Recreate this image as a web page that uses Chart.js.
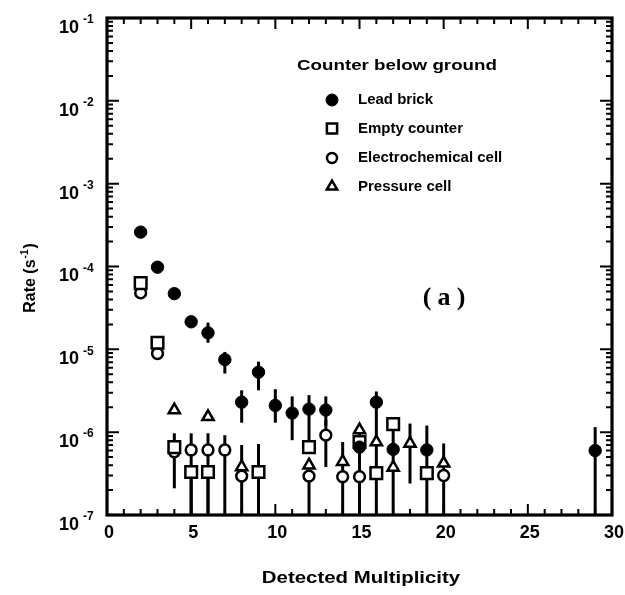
<!DOCTYPE html>
<html>
<head>
<meta charset="utf-8">
<script src="https://cdn.jsdelivr.net/npm/chart.js"></script>
<style>
  html, body { margin: 0; padding: 0; background: #fff; }
  #wrap { width: 625px; height: 595px; position: relative; }
</style>
</head>
<body>
<div id="wrap"><canvas id="chart" width="625" height="595"></canvas></div>
<script>
// Rate vs detected multiplicity, counter below ground
const leadX    = [2, 3, 4, 5, 6, 7, 8, 9, 10, 11, 12, 13, 15, 16, 17, 19, 29];
const leadRate = [2.6e-4, 9.8e-5, 4.7e-5, 2.15e-5, 1.58e-5, 7.5e-6, 2.3e-6, 5.3e-6, 2.1e-6, 1.7e-6, 1.9e-6, 1.85e-6, 6.6e-7, 2.3e-6, 6.2e-7, 6.1e-7, 6.0e-7];
const leadHi   = [null, null, null, null, 2.1e-5, 9.3e-6, 3.2e-6, 7.1e-6, 3.3e-6, 2.7e-6, 2.8e-6, 2.7e-6, null, 3.1e-6, null, 1.2e-6, 1.15e-6];
const leadLo   = [null, null, null, null, 1.2e-5, 5.1e-6, 1.3e-6, 3.2e-6, 1.3e-6, 8.0e-7, 6.6e-7, 1.2e-6, null, 1e-7, null, 1e-7, 1e-7];

const emptyX    = [2, 3, 4, 5, 6, 9, 12, 15, 16, 17, 19];
const emptyRate = [6.3e-5, 1.2e-5, 6.6e-7, 3.3e-7, 3.3e-7, 3.3e-7, 6.6e-7, 7.6e-7, 3.2e-7, 1.25e-6, 3.2e-7];
const emptyHi   = [null, 1.4e-5, null, null, null, 7.2e-7, null, null, null, 1.5e-6, null];
const emptyLo   = [null, 8e-6, null, 1e-7, 1e-7, 1e-7, null, null, null, 1e-7, null];

const electroX    = [2, 3, 4, 5, 6, 7, 8, 12, 13, 14, 15, 20];
const electroRate = [4.8e-5, 8.9e-6, 5.8e-7, 6.1e-7, 6.1e-7, 6.1e-7, 2.95e-7, 2.95e-7, 9.2e-7, 2.9e-7, 2.9e-7, 3.0e-7];
const electroHi   = [null, null, 9.7e-7, 9.7e-7, 9.7e-7, 9.2e-7, null, null, 1.4e-6, null, null, null];
const electroLo   = [null, null, 2.1e-7, 1e-7, 1e-7, 1e-7, null, 1e-7, 3.8e-7, null, null, null];

const pressureX    = [4, 6, 8, 12, 14, 15, 16, 17, 18, 20];
const pressureRate = [1.85e-6, 1.53e-6, 3.8e-7, 4.0e-7, 4.4e-7, 1.06e-6, 7.6e-7, 3.75e-7, 7.3e-7, 4.2e-7];
const pressureHi   = [null, null, 7.0e-7, null, 7.6e-7, 1.27e-6, null, null, 1.27e-6, 7.3e-7];
const pressureLo   = [null, null, 1e-7, null, 1e-7, 1e-7, null, null, 2.4e-7, 1e-7];

const seriesNames = ['Lead brick', 'Empty counter', 'Electrochemical cell', 'Pressure cell'];
const xTickLabels = [0, 5, 10, 15, 20, 25, 30];
const yTickExponents = [-7, -6, -5, -4, -3, -2, -1];

const SANS = '"Liberation Sans", Arial, sans-serif';

function points(xs, ys) {
  return xs.map((x, i) => ({ x: x, y: ys[i] }));
}

function series(label, xs, ys, hi, lo, style) {
  return Object.assign({
    label: label,
    data: points(xs, ys),
    errHi: hi,
    errLo: lo,
    showLine: false,
    borderColor: '#000',
    borderWidth: 2.5,
    backgroundColor: '#fff'
  }, style);
}

const datasets = [
  series(seriesNames[0], leadX, leadRate, leadHi, leadLo,
    { pointStyle: 'circle', pointRadius: 6.2, backgroundColor: '#000', borderWidth: 1 }),
  series(seriesNames[1], emptyX, emptyRate, emptyHi, emptyLo,
    { pointStyle: 'rect', pointRadius: 8.2 }),
  series(seriesNames[2], electroX, electroRate, electroHi, electroLo,
    { pointStyle: 'circle', pointRadius: 5.4 }),
  series(seriesNames[3], pressureX, pressureRate, pressureHi, pressureLo,
    { pointStyle: 'triangle', pointRadius: 6.5 })
];

// horizontally stretched text, the scanned lettering is wide
function wideText(ctx, text, x, y, stretch, align) {
  ctx.save();
  ctx.translate(x, y);
  ctx.scale(stretch, 1);
  ctx.textAlign = align;
  ctx.fillText(text, 0, 0);
  ctx.restore();
}

// vertical error bars, drawn under the markers
const errorBars = {
  id: 'errorBars',
  beforeDatasetsDraw(chart) {
    const { ctx, chartArea: a, scales: { x, y } } = chart;
    ctx.save();
    ctx.beginPath();
    ctx.rect(a.left, a.top, a.right - a.left, a.bottom - a.top);
    ctx.clip();
    ctx.strokeStyle = '#000';
    ctx.lineWidth = 3;
    chart.data.datasets.forEach(ds => {
      ds.data.forEach((p, i) => {
        const hi = ds.errHi[i], lo = ds.errLo[i];
        if (hi == null && lo == null) return;
        const px = x.getPixelForValue(p.x);
        ctx.beginPath();
        ctx.moveTo(px, y.getPixelForValue(hi != null ? hi : p.y));
        ctx.lineTo(px, y.getPixelForValue(lo != null ? lo : p.y));
        ctx.stroke();
      });
    });
    ctx.restore();
  }
};

// frame, inward ticks, tick labels, titles, legend
const frame = {
  id: 'frame',
  afterDraw(chart) {
    const { ctx, chartArea: a, scales: { x, y } } = chart;
    ctx.save();
    ctx.strokeStyle = '#000';
    ctx.fillStyle = '#000';

    // inward ticks along x (every unit, longer every 5)
    ctx.lineWidth = 2;
    for (let v = 1; v < 30; v++) {
      const px = x.getPixelForValue(v);
      const len = v % 5 === 0 ? 11 : 6;
      ctx.beginPath();
      ctx.moveTo(px, a.bottom); ctx.lineTo(px, a.bottom - len);
      ctx.moveTo(px, a.top); ctx.lineTo(px, a.top + len);
      ctx.stroke();
    }
    // inward ticks along y (decades and 2..9)
    for (let e = -7; e <= -1; e++) {
      for (let m = 1; m <= 9; m++) {
        const v = m * Math.pow(10, e);
        if (v > 0.1 * 1.0001) break;
        const py = y.getPixelForValue(v);
        const len = m === 1 ? 12 : 6;
        ctx.beginPath();
        ctx.moveTo(a.left, py); ctx.lineTo(a.left + len, py);
        ctx.moveTo(a.right, py); ctx.lineTo(a.right - len, py);
        ctx.stroke();
      }
    }

    ctx.lineWidth = 3.2;
    ctx.strokeRect(a.left, a.top, a.right - a.left, a.bottom - a.top);

    // x tick labels
    ctx.font = 'bold 18px ' + SANS;
    ctx.textAlign = 'center';
    ctx.textBaseline = 'middle';
    xTickLabels.forEach(v => {
      ctx.fillText(String(v), x.getPixelForValue(v) + 2, a.bottom + 18);
    });

    // y tick labels: 10 with raised exponent
    yTickExponents.forEach(e => {
      const py = y.getPixelForValue(Math.pow(10, e));
      ctx.font = 'bold 18px ' + SANS;
      ctx.textAlign = 'right';
      ctx.textBaseline = 'middle';
      ctx.fillText('10', 79, py + 10);
      ctx.font = 'bold 12px ' + SANS;
      ctx.textAlign = 'left';
      ctx.fillText('-' + Math.abs(e), 83, py + 2);
    });

    // axis titles
    ctx.font = 'bold 17px ' + SANS;
    ctx.textBaseline = 'middle';
    wideText(ctx, 'Detected Multiplicity', 361, 578, 1.2, 'center');

    ctx.save();
    ctx.translate(31, 278);
    ctx.rotate(-Math.PI / 2);
    ctx.font = 'bold 16px ' + SANS;
    const main = 'Rate (s';
    const sup = '-1';
    const close = ')';
    const w1 = ctx.measureText(main).width;
    ctx.font = 'bold 10px ' + SANS;
    const w2 = ctx.measureText(sup).width;
    ctx.font = 'bold 16px ' + SANS;
    const w3 = ctx.measureText(close).width;
    let sx = -(w1 + w2 + 2 + w3) / 2;
    ctx.textAlign = 'left';
    ctx.fillText(main, sx, 0);
    ctx.font = 'bold 10px ' + SANS;
    ctx.fillText(sup, sx + w1 + 1, -6);
    ctx.font = 'bold 16px ' + SANS;
    ctx.fillText(close, sx + w1 + w2 + 2, 0);
    ctx.restore();

    // panel tag
    ctx.font = 'bold 26px "Liberation Serif", "Times New Roman", serif';
    ctx.textAlign = 'center';
    ctx.fillText('(', 427, 298);
    ctx.fillText('a', 444, 298);
    ctx.fillText(')', 461, 298);

    // legend
    ctx.font = 'bold 15px ' + SANS;
    wideText(ctx, 'Counter below ground', 297, 66, 1.25, 'left');
    const rows = [100, 128.5, 158, 186.5];
    chart.data.datasets.forEach((ds, i) => {
      const r = ds.pointStyle === 'rect' ? 7.2 : ds.pointStyle === 'triangle' ? 6 : (i === 0 ? 6 : 5);
      ctx.save();
      ctx.lineWidth = ds.borderWidth;
      ctx.strokeStyle = ds.borderColor;
      ctx.fillStyle = ds.backgroundColor;
      Chart.helpers.drawPoint(ctx, { pointStyle: ds.pointStyle, radius: r, borderWidth: ds.borderWidth }, 332, rows[i]);
      ctx.restore();
      ctx.fillStyle = '#000';
      ctx.font = 'bold 15px ' + SANS;
      ctx.textAlign = 'left';
      ctx.fillText(ds.label, 358, rows[i]);
    });

    ctx.restore();
  }
};

new Chart(document.getElementById('chart'), {
  type: 'scatter',
  data: { datasets: datasets },
  options: {
    responsive: false,
    animation: false,
    layout: { padding: { left: 0, top: 18, right: 13, bottom: 0 } },
    plugins: { legend: { display: false }, tooltip: { enabled: false } },
    scales: {
      x: {
        type: 'linear', min: 0, max: 30,
        grid: { display: false }, border: { display: false },
        ticks: { display: false },
        afterFit(s) { s.height = 80; }
      },
      y: {
        type: 'logarithmic', min: 1e-7, max: 1e-1,
        grid: { display: false }, border: { display: false },
        ticks: { display: false },
        afterFit(s) { s.width = 107; }
      }
    }
  },
  plugins: [errorBars, frame]
});
</script>
</body>
</html>
